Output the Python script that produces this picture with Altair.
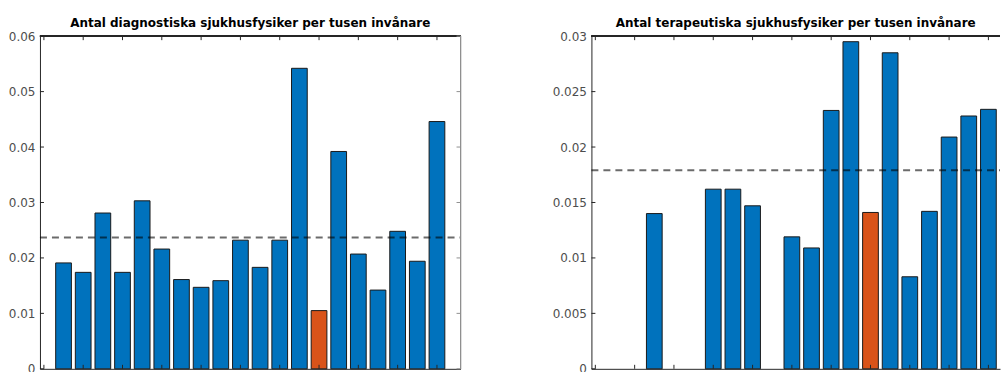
import altair as alt
import pandas as pd

# ---- data ----
positions = list(range(1, 21))
highlight_position = 14

diag_values = [0.0191, 0.0174, 0.0281, 0.0174, 0.0303, 0.0216, 0.0161, 0.0147, 0.0159, 0.0232,
               0.0183, 0.0232, 0.0542, 0.0105, 0.0392, 0.0207, 0.0142, 0.0248, 0.0194, 0.0446]
diag_mean = 0.0237
diag_yticks = [0, 0.01, 0.02, 0.03, 0.04, 0.05, 0.06]
diag_title = "Antal diagnostiska sjukhusfysiker per tusen invånare"

ther_values = [0, 0, 0.0140, 0, 0, 0.0162, 0.0162, 0.0147, 0, 0.0119,
               0.0109, 0.0233, 0.0295, 0.0141, 0.0285, 0.0083, 0.0142, 0.0209, 0.0228, 0.0234]
ther_mean = 0.0179
ther_yticks = [0, 0.005, 0.01, 0.015, 0.02, 0.025, 0.03]
ther_title = "Antal terapeutiska sjukhusfysiker per tusen invånare"

x_ticks = [0, 2, 4, 6, 8, 10, 12, 14, 16, 18, 20]

# ---- style ----
FULL_W, H = 421, 333
X_MIN, X_MAX = -0.2, 21.2
BLUE, ORANGE = "#0072BD", "#D95319"
DARK, GRAY, LABEL = "#262626", "#909090", "#4d4d4d"
FONT = "DejaVu Sans"


def panel(values, mean, yticks, title, W, show_right=True):
    ymax = yticks[-1]
    # the right panel is cut off by the window edge, as in the reference
    x_max = X_MIN + W * (X_MAX - X_MIN) / FULL_W
    df = pd.DataFrame({"pos": positions, "v": values})
    df["c"] = [ORANGE if p == highlight_position else BLUE for p in positions]
    xs = alt.Scale(domain=[X_MIN, x_max], nice=False, zero=False)
    ys = alt.Scale(domain=[0, ymax], nice=False, zero=True)
    x_axis = alt.Axis(labels=False, ticks=False, tickSize=0, grid=False, title=None,
                      domainColor=DARK, domainWidth=1)
    y_axis = alt.Axis(values=yticks, format="~g", ticks=False, tickSize=0, grid=False,
                      title=None, domainColor=DARK, domainWidth=1,
                      labelColor=LABEL, labelFont=FONT, labelFontSize=12, labelPadding=5)

    bars = (
        alt.Chart(df)
        .transform_filter("datum.v > 0")
        .transform_calculate(a="datum.pos - 0.4", b="datum.pos + 0.4")
        .mark_bar(stroke="#1a1a1a", strokeWidth=1)
        .encode(
            x=alt.X("a:Q", scale=xs, axis=x_axis),
            x2="b:Q",
            y=alt.Y("v:Q", scale=ys, axis=y_axis),
            y2=alt.datum(0),
            color=alt.Color("c:N", scale=None, legend=None),
        )
    )

    mline = (
        alt.Chart(pd.DataFrame({"m": [mean]}))
        .mark_rule(color="black", opacity=0.58, strokeWidth=2, strokeDash=[7, 5])
        .encode(y=alt.Y("m:Q", scale=ys, axis=y_axis), x=alt.value(0), x2=alt.value(W))
    )

    xt = pd.DataFrame({"t": x_ticks})
    yt = pd.DataFrame({"t": yticks})
    bottom_ticks = alt.Chart(xt).mark_rule(color=DARK, strokeWidth=1).encode(
        x=alt.X("t:Q", scale=xs, axis=x_axis), y=alt.value(H), y2=alt.value(H - 4))
    top_ticks = alt.Chart(xt).mark_rule(color=DARK, strokeWidth=1).encode(
        x=alt.X("t:Q", scale=xs, axis=x_axis), y=alt.value(0), y2=alt.value(4))
    left_ticks = alt.Chart(yt).mark_rule(color=DARK, strokeWidth=1).encode(
        y=alt.Y("t:Q", scale=ys, axis=y_axis), x=alt.value(0), x2=alt.value(4))
    frame_top = alt.Chart(xt).mark_rule(color=DARK, strokeWidth=1).encode(
        x=alt.value(0), x2=alt.value(W), y=alt.value(0))
    layers = [bars, mline, bottom_ticks, top_ticks, left_ticks, frame_top]
    if show_right:
        right_ticks = alt.Chart(yt).mark_rule(color=GRAY, strokeWidth=1).encode(
            y=alt.Y("t:Q", scale=ys, axis=y_axis), x=alt.value(W), x2=alt.value(W - 4))
        frame_right = alt.Chart(xt).mark_rule(color=GRAY, strokeWidth=1).encode(
            x=alt.value(W), y=alt.value(0), y2=alt.value(H))
        layers += [right_ticks, frame_right]

    return alt.layer(*layers).properties(
        width=W, height=H,
        title=alt.TitleParams(title, font=FONT, fontSize=12, fontWeight="bold", color="black",
                              anchor="middle", offset=0),
    )


left = panel(diag_values, diag_mean, diag_yticks, diag_title, FULL_W, True)
right = panel(ther_values, ther_mean, ther_yticks, ther_title, 409, False)

chart = (
    alt.hconcat(left, right, spacing=131, bounds="flush")
    .properties(padding={"left": 8, "top": 17, "right": 0, "bottom": 0})
    .configure_view(stroke=None)
)

chart.save("out.html", embed_options={"renderer": "svg", "actions": False})
